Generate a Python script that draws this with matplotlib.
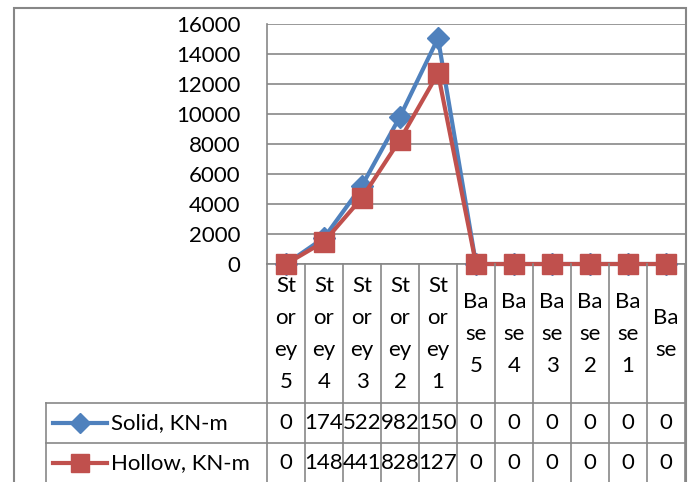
import matplotlib
matplotlib.use("Agg")
import matplotlib.pyplot as plt
from matplotlib.lines import Line2D
from matplotlib.patches import Rectangle
from matplotlib.transforms import blended_transform_factory

plt.rcParams["font.family"] = ["Lato", "DejaVu Sans"]

categorias = ["St\nor\ney\n5", "St\nor\ney\n4", "St\nor\ney\n3", "St\nor\ney\n2", "St\nor\ney\n1",
              "Ba\nse\n5", "Ba\nse\n4", "Ba\nse\n3", "Ba\nse\n2", "Ba\nse\n1", "Ba\nse"]
solid = [0, 1745, 5225, 9825, 15050, 0, 0, 0, 0, 0, 0]
hollow = [0, 1485, 4415, 8285, 12710, 0, 0, 0, 0, 0, 0]
series_nombres = ["Solid, KN-m", "Hollow, KN-m"]
yticks = [0, 2000, 4000, 6000, 8000, 10000, 12000, 14000, 16000]

AZUL = "#4F81BD"
ROJO = "#C0504D"
GRIS = "#878787"
W, H = 690, 482


def fy(py):
    return 1 - py / H


fig = plt.figure(figsize=(W / 100, H / 100), dpi=100)
ax = fig.add_axes([267 / W, fy(264), 418 / W, 240 / H])

x = list(range(len(categorias)))
ax.plot(x, solid, color=AZUL, lw=3, marker="D", ms=11, clip_on=False, zorder=3)
ax.plot(x, hollow, color=ROJO, lw=3, marker="s", ms=14, clip_on=False, zorder=4)

ax.set_xlim(-0.5, len(categorias) - 0.5)
ax.set_ylim(0, 16000)
ax.set_yticks(yticks)
ax.set_yticklabels([str(v) for v in yticks])
ax.set_xticks([])
ax.tick_params(axis="y", length=0, pad=19, labelsize=16)
ax.grid(axis="y", color=GRIS, lw=1.2)
ax.set_axisbelow(True)
for s in ["top", "right"]:
    ax.spines[s].set_visible(False)
for s in ["left", "bottom"]:
    ax.spines[s].set_color(GRIS)
    ax.spines[s].set_linewidth(1.2)

# marco exterior del grafico
fig.patches.append(Rectangle((14 / W, fy(495)), 672 / W, (495 - 8) / H, transform=fig.transFigure,
                             fill=False, ec=GRIS, lw=1.5))

# tabla de datos bajo el eje
tr = blended_transform_factory(ax.transData, fig.transFigure)
for b in [i - 0.5 for i in range(len(categorias) + 1)]:
    fig.add_artist(Line2D([b, b], [fy(264), fy(490)], transform=tr, color=GRIS, lw=1.2))
for py in [403, 443]:
    fig.add_artist(Line2D([46 / W, 685 / W], [fy(py), fy(py)], transform=fig.transFigure, color=GRIS, lw=1.2))
fig.add_artist(Line2D([46 / W, 46 / W], [fy(403), fy(490)], transform=fig.transFigure, color=GRIS, lw=1.2))

for i, cat in enumerate(categorias):
    fig.text(i, fy(334), cat, transform=tr, ha="center", va="center", fontsize=16,
             linespacing=1.74, multialignment="center")

filas = [(solid, AZUL, "D", 10, 423), (hollow, ROJO, "s", 13, 463)]
for (vals, col, mk, ms, py), nombre in zip(filas, series_nombres):
    fig.add_artist(Line2D([53 / W, 107 / W], [fy(py), fy(py)], transform=fig.transFigure, color=col, lw=3))
    fig.add_artist(Line2D([80 / W], [fy(py)], transform=fig.transFigure, color=col, marker=mk, ms=ms, lw=0))
    fig.text(111 / W, fy(py), nombre, ha="left", va="center", fontsize=16)
    for i, v in enumerate(vals):
        # Excel corta el numero al ancho de la celda: solo se ven 3 cifras
        fig.text(i, fy(py), str(v)[:3], transform=tr, ha="center", va="center", fontsize=16)

fig.savefig("out.png", dpi=100)
